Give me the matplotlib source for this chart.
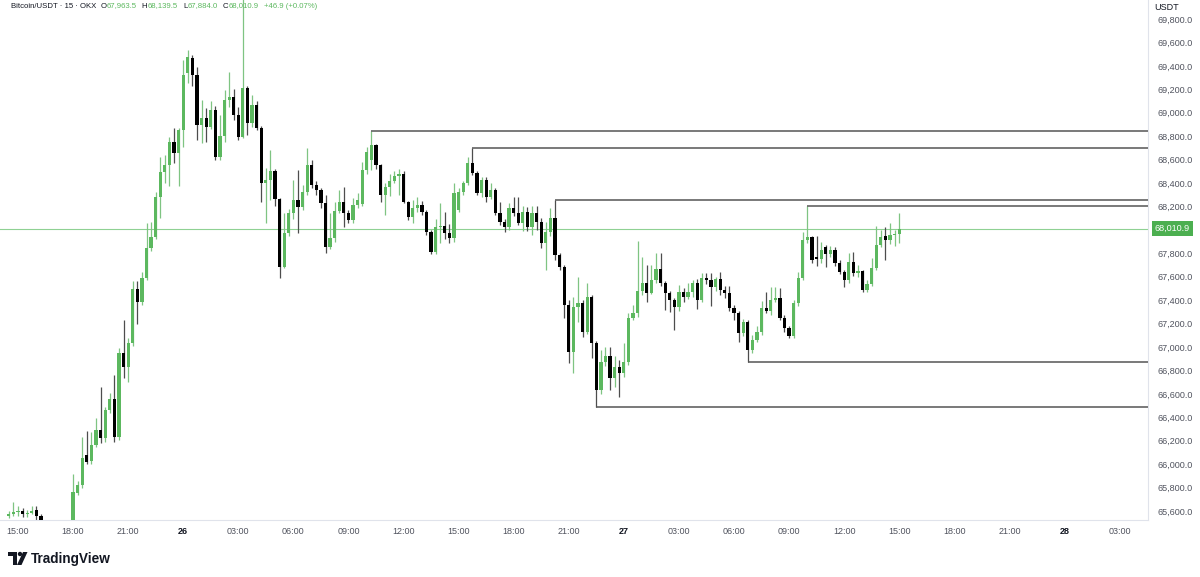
import matplotlib.pyplot as plt
import matplotlib.patches as mpatches
from matplotlib.ticker import FuncFormatter
from matplotlib.transforms import blended_transform_factory
import numpy as np
import pandas as pd

plt.rcParams['font.family'] = ['Liberation Sans', 'DejaVu Sans']

# BTC/USDT 15m candles (OKX), first candle at 14:30 on the 25th
opens = [65560, 65575, 65590, 65600, 65570, 65585, 65610, 65555, 65450, 65360,
         65300, 65350, 65320, 65400, 65420, 65755, 65825, 66080, 66030, 66165,
         66290, 66220, 66460, 66560, 66230, 66950, 66830, 67035, 67495, 67385,
         67590, 67845, 67940, 68280, 68495, 68555, 68750, 68655, 68850, 69340,
         69470, 69320, 68895, 68955, 68880, 69025, 68625, 68800, 69110, 69130,
         68980, 68795, 69210, 68910, 69065, 68870, 68400, 68425, 68505, 68265,
         67685, 67975, 68145, 68255, 68195, 68320, 68555, 68385, 68340, 68230,
         67855, 67930, 68165, 68235, 68145, 68085, 68210, 68220, 68510, 68600,
         68725, 68555, 68295, 68365, 68420, 68460, 68480, 68240, 68110, 68185,
         68210, 68150, 67985, 67810, 68025, 68035, 67975, 67930, 68170, 68325,
         68400, 68570, 68485, 68315, 68425, 68280, 68340, 68145, 68070, 68025,
         68190, 68145, 68060, 68155, 68020, 68145, 68070, 67890, 67980, 68100,
         67785, 67680, 67360, 66960, 67340, 67375, 67130, 67430, 67035, 66630,
         66870, 66920, 66735, 66830, 66780, 66870, 67250, 67290, 67480, 67550,
         67460, 67570, 67665, 67545, 67460, 67400, 67340, 67470, 67430, 67470,
         67550, 67400, 67590, 67570, 67510, 67580, 67490, 67460, 67330, 67290,
         67120, 67210, 66975, 67060, 67130, 67335, 67310, 67400, 67420, 67250,
         67165, 67090, 67375, 67590, 67915, 67935, 67765, 67750, 67850, 67790,
         67830, 67720, 67640, 67570, 67725, 67630, 67650, 67490, 67540, 67675,
         67870, 67945, 67910, 67955, 67963.5]
highs = [65600, 65680, 65640, 65625, 65610, 65640, 65640, 65570, 65480, 65400,
         65380, 65400, 65420, 65450, 65915, 65860, 66235, 66280, 66270, 66390,
         66660, 66490, 66610, 66760, 66990, 67230, 67075, 67560, 67560, 67640,
         68060, 68070, 68325, 68620, 68640, 68790, 68870, 68870, 69450, 69535,
         69495, 69390, 69110, 69040, 69100, 69060, 68980, 69195, 69350, 69200,
         69050, 70100, 69230, 69150, 69100, 68890, 68530, 68680, 68520, 68270,
         68145, 68180, 68425, 68510, 68380, 68700, 68600, 68420, 68360, 68300,
         68145, 68235, 68340, 68365, 68170, 68270, 68315, 68580, 68705, 68840,
         68735, 68560, 68400, 68480, 68500, 68520, 68500, 68250, 68255, 68280,
         68250, 68170, 68000, 68090, 68230, 68150, 68050, 68400, 68360, 68420,
         68620, 68700, 68500, 68450, 68450, 68400, 68360, 68240, 68090, 68230,
         68280, 68280, 68200, 68195, 68200, 68200, 68100, 68070, 68190, 68255,
         67800, 67700, 67400, 67430, 67600, 67400, 67550, 67440, 67050, 66975,
         67000, 67000, 66920, 66885, 67030, 67290, 67360, 67905, 67770, 67700,
         67700, 67800, 67800, 67560, 67480, 67420, 67530, 67500, 67550, 67575,
         67580, 67630, 67630, 67630, 67600, 67640, 67520, 67520, 67360, 67310,
         67240, 67230, 67100, 67180, 67390, 67470, 67510, 67510, 67500, 67270,
         67180, 67400, 67640, 67985, 68204, 67950, 67950, 67900, 67870, 67860,
         67850, 67740, 67660, 67800, 67810, 67700, 67660, 67570, 67760, 68030,
         68000, 68020, 68060, 68000, 68139.5]
lows = [65540, 65555, 65560, 65550, 65550, 65570, 65520, 65420, 65330, 65250,
        65260, 65280, 65300, 65360, 65380, 65740, 65800, 66000, 66000, 66150,
        66180, 66190, 66440, 66190, 66210, 66735, 66700, 67010, 67200, 67360,
        67570, 67820, 67920, 68100, 68400, 68370, 68570, 68370, 68710, 69255,
        69230, 68770, 68740, 68750, 68860, 68600, 68600, 68750, 69050, 68940,
        68770, 68780, 68810, 68880, 68850, 68240, 68060, 68255, 68200, 67590,
        67670, 67950, 68090, 67975, 68170, 68300, 68360, 68300, 68190, 67800,
        67840, 67900, 68140, 68025, 68060, 68060, 68190, 68200, 68480, 68510,
        68520, 68235, 68130, 68290, 68400, 68300, 68230, 68080, 68055, 68150,
        68130, 67960, 67790, 67790, 67890, 67920, 67890, 67900, 68150, 68300,
        68380, 68470, 68300, 68280, 68240, 68260, 68130, 68040, 67980, 68000,
        68120, 68040, 67990, 67990, 67960, 68000, 67845, 67660, 67950, 67740,
        67660, 67250, 66860, 66780, 67210, 67085, 67110, 66910, 66488, 66600,
        66840, 66630, 66660, 66575, 66740, 66850, 67230, 67260, 67440, 67385,
        67450, 67550, 67520, 67315, 67300, 67145, 67310, 67380, 67410, 67430,
        67320, 67380, 67540, 67350, 67480, 67440, 67420, 67310, 67230, 67040,
        67090, 66872, 66950, 67040, 67100, 67290, 67270, 67380, 67230, 67130,
        67080, 67080, 67350, 67575, 67890, 67720, 67690, 67720, 67680, 67770,
        67690, 67620, 67510, 67550, 67610, 67600, 67470, 67470, 67520, 67660,
        67850, 67745, 67880, 67860, 67884.0]
closes = [65575, 65590, 65600, 65570, 65585, 65600, 65555, 65450, 65360, 65300,
          65350, 65320, 65400, 65420, 65765, 65825, 66050, 66020, 66165, 66290,
          66220, 66460, 66560, 66230, 66950, 66830, 67035, 67495, 67385, 67590,
          67845, 67940, 68280, 68495, 68555, 68750, 68655, 68850, 69320, 69475,
          69320, 68895, 68955, 68880, 69025, 68625, 68800, 69110, 69130, 68980,
          68795, 69210, 68910, 69065, 68870, 68400, 68425, 68505, 68265, 67685,
          67975, 68145, 68255, 68195, 68320, 68555, 68385, 68340, 68230, 67855,
          67930, 68165, 68235, 68145, 68085, 68210, 68255, 68510, 68665, 68725,
          68555, 68295, 68365, 68420, 68460, 68480, 68240, 68110, 68185, 68210,
          68150, 67985, 67810, 68025, 68035, 67975, 67930, 68315, 68325, 68400,
          68570, 68485, 68315, 68425, 68280, 68340, 68145, 68070, 68025, 68190,
          68145, 68060, 68155, 68020, 68145, 68070, 67890, 67980, 68100, 67785,
          67680, 67360, 66960, 67340, 67375, 67130, 67430, 67035, 66630, 66870,
          66920, 66735, 66830, 66780, 66870, 67250, 67290, 67480, 67550, 67460,
          67570, 67665, 67545, 67460, 67400, 67340, 67470, 67430, 67470, 67550,
          67400, 67590, 67570, 67510, 67580, 67490, 67460, 67330, 67290, 67120,
          67210, 66975, 67060, 67130, 67335, 67310, 67400, 67420, 67250, 67165,
          67090, 67375, 67590, 67915, 67935, 67745, 67750, 67830, 67790, 67830,
          67720, 67640, 67570, 67725, 67630, 67650, 67490, 67540, 67675, 67870,
          67940, 67910, 67955, 67964.0, 68010.9]

# candles where the drawn horizontal levels start
level_high_idx = [79, 101, 119, 174]
level_low_idx = [128, 161]

header_title = "Bitcoin/USDT · 15 · OKX"

green = '#5cb85f'
black = '#000000'

times = pd.date_range("2024-03-25 14:30", periods=len(opens), freq="15min")
tick_times = pd.date_range("2024-03-25 15:00", "2024-03-28 03:00", freq="3h")
tick_pos = (tick_times - times[0]) / pd.Timedelta("15min")
tick_labels = [str(t.day) if t.hour == 0 else t.strftime("%H:%M") for t in tick_times]

o = np.array(opens, dtype=float)
h = np.array(highs, dtype=float)
l = np.array(lows, dtype=float)
c = np.array(closes, dtype=float)
x = np.arange(len(o))
up = c >= o

fig = plt.figure(figsize=(12, 5.77), dpi=100)
ax = fig.add_axes([0, 1 - 520 / 577, 1148 / 1200, 520 / 577])
xmin, xmax = -1.92, 248.2
ax.set_xlim(xmin, xmax)
ax.set_ylim(65523, 69962)

# last price line
ax.axhline(c[-1], color='#8fd193', lw=0.8, zorder=1)

# wicks + bodies
ax.vlines(x[up], l[up], h[up], color='#7fc482', lw=0.9, zorder=2)
ax.vlines(x[~up], l[~up], h[~up], color='#4d4d4d', lw=0.9, zorder=2)
body_h = np.maximum(np.abs(c - o), 7)
ax.bar(x, body_h, bottom=np.minimum(o, c), width=0.7,
       color=np.where(up, green, black), lw=0, zorder=3)

# horizontal levels from swing highs / lows
for k in level_high_idx:
    ax.hlines(h[k], k, xmax, color='#555555', lw=1.1, zorder=4)
for k in level_low_idx:
    ax.hlines(l[k], k, xmax, color='#555555', lw=1.1, zorder=4)

# axes styling
for s in ['top', 'left']:
    ax.spines[s].set_visible(False)
ax.spines['bottom'].set_color('#e0e3eb')
ax.spines['right'].set_color('#e0e3eb')
ax.yaxis.tick_right()
yt = np.arange(65600, 69801, 200)
ax.set_yticks(yt[np.abs(yt - c[-1]) > 100])  # the one under the price tag is hidden
ax.yaxis.set_major_formatter(FuncFormatter(lambda v, p: f"{v:,.1f}"))
ax.tick_params(axis='y', length=0, pad=7, labelsize=6.5, labelcolor='#50535e')
ax.set_xticks(tick_pos)
ax.set_xticklabels(tick_labels)
ax.tick_params(axis='x', length=0, pad=5, labelsize=6.5, labelcolor='#50535e')
for t in ax.get_xticklabels():
    if len(t.get_text()) <= 2:
        t.set_fontweight('bold')
        t.set_color('#131722')

# last price tag on the price axis
trans = blended_transform_factory(ax.transAxes, ax.transData)
ax.text(1.006, c[-1], f"{c[-1]:,.1f}", transform=trans, color='white',
        fontsize=6.5, va='center', ha='left', clip_on=False, zorder=6,
        bbox=dict(boxstyle='square,pad=0.35', fc='#4caf50', ec='none'))

fig.text(1167 / 1200, 1 - 7 / 577, "USDT", fontsize=6.5, color='#131722',
         ha='center', va='center')

# header legend, laid out piece by piece
renderer = fig.canvas.get_renderer()
hy = 1 - 6 / 577
chg = c[-1] - c[-2]
pieces = [(header_title, '#131722', 4),
          ("O", '#131722', 0.5), (f"{o[-1]:,.1f}", green, 5),
          ("H", '#131722', 0.5), (f"{h[-1]:,.1f}", green, 5),
          ("L", '#131722', 0.5), (f"{l[-1]:,.1f}", green, 5),
          ("C", '#131722', 0.5), (f"{c[-1]:,.1f}", green, 5),
          (f"+{chg:.1f} (+{chg / c[-2] * 100:.2f}%)", green, 0)]
px = 11
for txt, col, gap in pieces:
    t = fig.text(px / 1200, hy, txt, fontsize=5.6, color=col, va='center')
    px = t.get_window_extent(renderer).x1 + gap

# TradingView logo
def fxy(px, py):
    return (px / 1200, 1 - py / 577)

logo = '#131722'
fig.add_artist(mpatches.Polygon([fxy(8, 552), fxy(17, 552), fxy(17, 565), fxy(13, 565),
                                 fxy(13, 556), fxy(8, 556)], closed=True,
                                fc=logo, ec='none', transform=fig.transFigure))
fig.add_artist(mpatches.Ellipse(fxy(20, 554), 4.4 / 1200, 4.4 / 577, fc=logo, ec='none',
                                transform=fig.transFigure))
fig.add_artist(mpatches.Polygon([fxy(23, 552), fxy(27.5, 552), fxy(21.5, 565), fxy(17, 565)],
                                closed=True, fc=logo, ec='none', transform=fig.transFigure))
fig.text(31 / 1200, 1 - 558.5 / 577, "TradingView", fontsize=9.8, fontweight='bold',
         color=logo, va='center')

fig.savefig("out.png", dpi=100, facecolor='white')
